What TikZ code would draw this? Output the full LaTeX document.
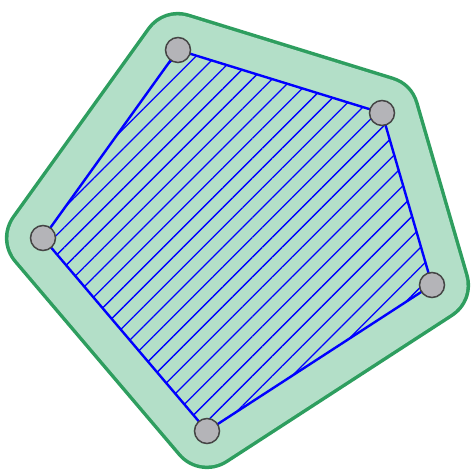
\documentclass[tikz,border=0pt]{standalone}
\usepackage{tikz}
\usetikzlibrary{patterns.meta,backgrounds}
\definecolor{hullfill}{HTML}{B3DFC8}
\definecolor{hullborder}{HTML}{2E9E5F}
\definecolor{vertexgray}{HTML}{B4B4B8}
\definecolor{vertexrim}{HTML}{454545}

\begin{document}
\begin{tikzpicture}[
  x=1pt, y=1pt,
  vertex/.style={
    circle,
    draw=vertexrim,
    fill=vertexgray,
    line width=1.5pt,
    minimum size=25pt,
    inner sep=0pt
  },
  edge/.style={draw=blue, line width=2.4pt, line join=round}
]
  \useasboundingbox (0,0) rectangle (470,470);

  % Polygon vertices
  \node[vertex] (pA) at (178,420) {};
  \node[vertex] (pB) at (382,357) {};
  \node[vertex] (pC) at (432,185) {};
  \node[vertex] (pD) at (207,39) {};
  \node[vertex] (pE) at (43,232) {};

  \begin{scope}[on background layer]
    % Rounded offset hull
    \draw[hullborder, line width=76pt, line join=round]
      (pA.center) -- (pB.center) -- (pC.center) -- (pD.center) -- (pE.center) -- cycle;
    \draw[hullfill, line width=69pt, line join=round]
      (pA.center) -- (pB.center) -- (pC.center) -- (pD.center) -- (pE.center) -- cycle;
    \fill[hullfill]
      (pA.center) -- (pB.center) -- (pC.center) -- (pD.center) -- (pE.center) -- cycle;

    % Hatched interior
    \path[pattern={Lines[angle=45,distance=14pt,line width=1.3pt]}, pattern color=blue]
      (pA.center) -- (pB.center) -- (pC.center) -- (pD.center) -- (pE.center) -- cycle;

    % Polygon edges
    \draw[edge] (pA.center) -- (pB.center);
    \draw[edge] (pB.center) -- (pC.center);
    \draw[edge] (pC.center) -- (pD.center);
    \draw[edge] (pD.center) -- (pE.center);
    \draw[edge] (pE.center) -- (pA.center);
  \end{scope}

\end{tikzpicture}
\end{document}
